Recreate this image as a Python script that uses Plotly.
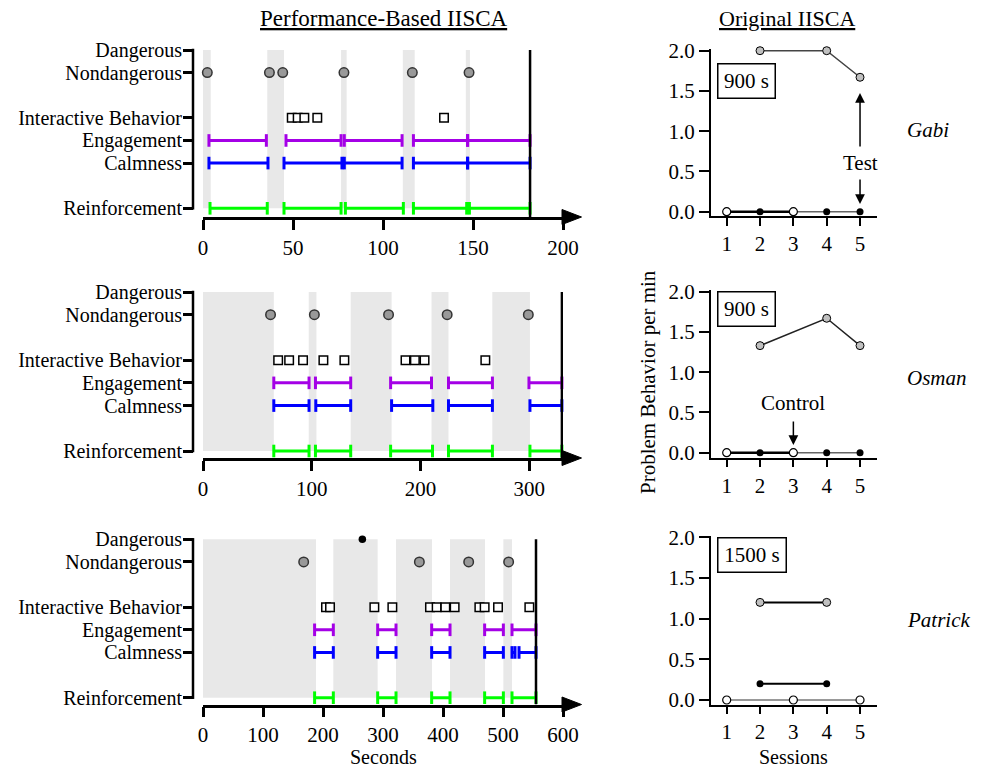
import plotly.graph_objects as go

W, H = 981, 769
def px(x): return x / W
def py(y): return 1 - y / H

FONT = "Liberation Serif"

# ---------------- data ----------------
LEVEL_VALUES = [0, 2, 3, 4, 6, 7]
LEVEL_LABELS = ["Reinforcement", "Calmness", "Engagement", "Interactive Behavior",
                "Nondangerous", "Dangerous"]

# Gabi (Performance-Based IISCA, seconds)
gabi_gray = [(0, 4.3), (35.7, 45), (76.7, 79.8), (111, 117.6), (146, 148.3)]
gabi_dangerous = []
gabi_nondangerous = [2.4, 36.9, 44.3, 78.3, 116.3, 147.8]
gabi_interactive = [49.3, 52.6, 56.3, 63.5, 133.9]
gabi_engagement = [(3.3, 35.2), (46.1, 76.7), (78.5, 110.6), (116.9, 147), (147, 181.7)]
gabi_calmness = [(3.3, 36.1), (45, 77.2), (78.5, 110.6), (116.9, 147), (147, 181.7)]
gabi_reinforcement = [(3.9, 35.7), (45, 76.7), (79.1, 111.3), (116.9, 146.5), (148, 181.7)]
gabi_end = 181.7

# Osman
osman_gray = [(0, 65.1), (97.2, 104.3), (135.8, 173.4), (210.1, 225.7), (266, 300.6)]
osman_dangerous = []
osman_nondangerous = [62.1, 102.4, 170.6, 224.5, 299.1]
osman_interactive = [69.1, 79.2, 92.0, 110.7, 130, 186.2, 194.8, 203.7, 259.6]
osman_engagement = [(65.1, 97.5), (103.4, 135.8), (172.5, 210.1), (225.7, 266.1), (299.7, 330)]
osman_calmness = [(65.1, 97.5), (103.7, 135.8), (173.4, 211.3), (225.7, 266.1), (300.6, 330)]
osman_reinforcement = [(65.1, 97.5), (103.4, 135.8), (172.5, 211), (225.7, 266.1), (300.6, 330)]
osman_end = 330

# Patrick
patrick_gray = [(0, 188.3), (217.2, 291.1), (321.7, 381.7), (411.7, 470), (500.6, 515)]
patrick_dangerous = [265.6]
patrick_nondangerous = [167.8, 360.6, 442.8, 509.4]
patrick_interactive = [205, 211.7, 285.6, 315.6, 378.3, 389.4, 403.9, 419.4,
                       460.6, 469.4, 491.7, 543.9]
patrick_engagement = [(186, 217.2), (291.1, 321.7), (381.1, 411.7), (469.4, 500.6), (515, 555)]
patrick_calmness = [(186, 217.2), (291.1, 321.7), (381.1, 411.7), (469.4, 500.6),
                    (515, 520), (526.7, 555)]
patrick_reinforcement = [(186, 217.2), (291.1, 321.7), (381.1, 411.7), (469.4, 500.6), (515, 555)]
patrick_end = 555

left_ticks = [[0, 50, 100, 150, 200], [0, 100, 200, 300], [0, 100, 200, 300, 400, 500, 600]]
left_ranges = [200, 331, 600]

# Original IISCA (problem behavior per min)
sessions = [1, 2, 3, 4, 5]
gabi_open_x, gabi_open_y = [1, 3], [0, 0]
gabi_black_x, gabi_black_y = [2, 4, 5], [0, 0, 0]
gabi_test_x, gabi_test_y = [2, 4, 5], [2.0, 2.0, 1.67]
osman_open_x, osman_open_y = [1, 3], [0, 0]
osman_black_x, osman_black_y = [2, 4, 5], [0, 0, 0]
osman_test_x, osman_test_y = [2, 4, 5], [1.33, 1.67, 1.33]
patrick_open_x, patrick_open_y = [1, 3, 5], [0, 0, 0]
patrick_black_x, patrick_black_y = [2, 4], [0.2, 0.2]
patrick_test_x, patrick_test_y = [2, 4], [1.2, 1.2]
right_yticks = [0, 0.5, 1.0, 1.5, 2.0]

durations = ["900 s", "900 s", "1500 s"]
names = ["Gabi", "Osman", "Patrick"]

# ---------------- layout geometry (pixels) ----------------
left_geo = [(50, 208.3, 217), (292, 451, 458), (539.3, 697.7, 704.5)]   # top(7), zero(0), axis
right_geo = [(50.7, 211.7, 216), (291.7, 452.7, 457.7), (537.3, 700, 704.5)]  # 2.0, 0.0, axis
LX0, LX1 = 203, 563
RX0, RX1 = 710.7, 876.7

PURPLE, BLUE, GREEN = "#a400e6", "#0000ff", "#00ff00"

fig = go.Figure()
shapes, annotations = [], []
layout = {}

left_data = [
    (gabi_gray, gabi_dangerous, gabi_nondangerous, gabi_interactive, gabi_engagement,
     gabi_calmness, gabi_reinforcement, gabi_end),
    (osman_gray, osman_dangerous, osman_nondangerous, osman_interactive, osman_engagement,
     osman_calmness, osman_reinforcement, osman_end),
    (patrick_gray, patrick_dangerous, patrick_nondangerous, patrick_interactive, patrick_engagement,
     patrick_calmness, patrick_reinforcement, patrick_end),
]

def intervals_xy(intervals, level):
    xs, ys = [], []
    for a, b in intervals:
        xs += [a, b, None]
        ys += [level, level, None]
    return xs, ys

for i, (gray, dang, nond, inter, eng, calm, reinf, end) in enumerate(left_data):
    n = i + 1
    xa, ya = ("x" if n == 1 else f"x{n}"), ("y" if n == 1 else f"y{n}")
    top, zero, axis = left_geo[i]
    u = (zero - top) / 7
    ybot = -(axis - zero) / u
    ytop = 7 + 4 / u
    layout[f"xaxis{'' if n == 1 else n}"] = dict(
        domain=[px(LX0), px(LX1)], range=[0, left_ranges[i]], anchor=ya, automargin=False,
        showline=True, linecolor="black", linewidth=2.5, ticks="outside", ticklen=10,
        tickwidth=2.5, tickcolor="black", tickvals=left_ticks[i], showgrid=False,
        zeroline=False, tickfont=dict(family=FONT, size=21, color="black"))
    layout[f"yaxis{'' if n == 1 else n}"] = dict(
        domain=[py(axis), py(top - 4)], range=[ybot, ytop], anchor="free", automargin=False,
        position=px(193), showline=False, ticks="outside", ticklen=10, tickwidth=2.5,
        ticklabelstandoff=-3,
        tickcolor="black", tickvals=LEVEL_VALUES, ticktext=LEVEL_LABELS, showgrid=False,
        zeroline=False, tickfont=dict(family=FONT, size=20, color="black"))
    for a, b in gray:
        shapes.append(dict(type="rect", xref=xa, yref=ya, x0=a, x1=b, y0=0, y1=7,
                           fillcolor="#e8e8e8", line=dict(width=0), layer="below"))
    shapes.append(dict(type="line", xref=xa, yref=ya, x0=end, x1=end, y0=ybot, y1=7,
                       line=dict(color="black", width=2.5)))
    # y axis line and arrow head
    shapes.append(dict(type="line", xref="paper", yref="paper", x0=px(193), x1=px(193),
                       y0=py(top - 1.25), y1=py(zero + 1.25), line=dict(color="black", width=2.5)))
    shapes.append(dict(type="path", xref="paper", yref="paper",
                       path=f"M {px(562)} {py(axis - 7.5)} L {px(581.5)} {py(axis)} L {px(562)} {py(axis + 7.5)} Z",
                       fillcolor="black", line=dict(color="black", width=1)))
    for ivals, lvl, col in [(reinf, 0, GREEN), (calm, 2, BLUE), (eng, 3, PURPLE)]:
        xs, ys = intervals_xy(ivals, lvl)
        fig.add_trace(go.Scatter(x=xs, y=ys, mode="lines+markers", xaxis=xa, yaxis=ya,
                                 line=dict(color=col, width=3),
                                 marker=dict(symbol="line-ns", size=9, line=dict(color=col, width=3)),
                                 cliponaxis=False, showlegend=False, hoverinfo="skip"))
    fig.add_trace(go.Scatter(x=inter, y=[4] * len(inter), mode="markers", xaxis=xa, yaxis=ya,
                             marker=dict(symbol="square", size=8.5, color="white",
                                         line=dict(color="black", width=1.5)),
                             cliponaxis=False, showlegend=False))
    fig.add_trace(go.Scatter(x=nond, y=[6] * len(nond), mode="markers", xaxis=xa, yaxis=ya,
                             marker=dict(symbol="circle", size=9.5, color="#999999",
                                         line=dict(color="#333333", width=1.5)),
                             cliponaxis=False, showlegend=False))
    if dang:
        fig.add_trace(go.Scatter(x=dang, y=[7] * len(dang), mode="markers", xaxis=xa, yaxis=ya,
                                 marker=dict(symbol="circle", size=7.5, color="black"),
                                 cliponaxis=False, showlegend=False))

right_data = [
    (gabi_open_x, gabi_open_y, gabi_black_x, gabi_black_y, gabi_test_x, gabi_test_y,
     ("black", 2.5), ("#666666", 1.5), ("#444444", 1.5)),
    (osman_open_x, osman_open_y, osman_black_x, osman_black_y, osman_test_x, osman_test_y,
     ("black", 2.5), ("#666666", 1.5), ("#222222", 1.5)),
    (patrick_open_x, patrick_open_y, patrick_black_x, patrick_black_y, patrick_test_x, patrick_test_y,
     ("#777777", 1.5), ("black", 2), ("black", 2)),
]

for i, (ox, oy, bx, by, tx, ty, ost, bst, tst) in enumerate(right_data):
    n = i + 4
    xa, ya = f"x{n}", f"y{n}"
    two, zero, axis = right_geo[i]
    u = (zero - two) / 2
    ybot = -(axis - zero) / u
    ytop = 2 + 1.5 / u
    layout[f"xaxis{n}"] = dict(
        domain=[px(RX0), px(RX1)], range=[0.52, 5.5], anchor=ya, showline=True, automargin=False,
        linecolor="black", linewidth=1.5, ticks="outside", ticklen=8, tickwidth=1.5,
        tickcolor="black", tickvals=sessions, showgrid=False, zeroline=False,
        tickfont=dict(family=FONT, size=21, color="black"))
    layout[f"yaxis{n}"] = dict(
        domain=[py(axis), py(two - 1.5)], range=[ybot, ytop], anchor=xa, showline=True,
        automargin=False,
        linecolor="black", linewidth=1.5, ticks="outside", ticklen=10, tickwidth=1.5,
        tickcolor="black", tickvals=right_yticks, ticktext=[f"{v:.1f}" for v in right_yticks],
        showgrid=False, zeroline=False, tickfont=dict(family=FONT, size=21, color="black"))
    fig.add_trace(go.Scatter(x=bx, y=by, mode="lines+markers", xaxis=xa, yaxis=ya,
                             line=dict(color=bst[0], width=bst[1]),
                             marker=dict(size=7, color="black"), cliponaxis=False, showlegend=False))
    fig.add_trace(go.Scatter(x=ox, y=oy, mode="lines+markers", xaxis=xa, yaxis=ya,
                             line=dict(color=ost[0], width=ost[1]),
                             marker=dict(size=8, color="white", line=dict(color="black", width=1.2)),
                             cliponaxis=False, showlegend=False))
    fig.add_trace(go.Scatter(x=tx, y=ty, mode="lines+markers", xaxis=xa, yaxis=ya,
                             line=dict(color=tst[0], width=tst[1]),
                             marker=dict(size=8, color="#c0c0c0", line=dict(color="black", width=1)),
                             cliponaxis=False, showlegend=False))
    # duration box
    bw = 53 if i < 2 else 64
    annotations.append(dict(xref="paper", yref="paper",
                            x=px(717), y=py([62.7, 291, 537][i]), xanchor="left", yanchor="top",
                            text=durations[i], showarrow=False, width=bw, height=30,
                            bordercolor="black", borderwidth=1.5, borderpad=1.5,
                            font=dict(family=FONT, size=21, color="black")))
    # participant name
    annotations.append(dict(xref="paper", yref="paper", x=px(905), y=py([130, 378, 620][i]),
                            xanchor="left", yanchor="middle", text=f"<i>{names[i]}</i>",
                            showarrow=False, font=dict(family=FONT, size=21, color="black")))

# Test / Control annotations
annotations += [
    dict(xref="x4", yref="y4", x=5, y=0.605, text="Test", showarrow=False,
         font=dict(family=FONT, size=21, color="black")),
    dict(xref="x4", yref="y4", x=5, y=1.474, ax=0, ay=55, text="", showarrow=True,
         arrowhead=2, arrowsize=1.3, arrowwidth=1.5, arrowcolor="black", standoff=0),
    dict(xref="x4", yref="y4", x=5, y=0.096, ax=0, ay=-26, text="", showarrow=True,
         arrowhead=2, arrowsize=1.3, arrowwidth=1.5, arrowcolor="black", standoff=0),
    dict(xref="x5", yref="y5", x=3, y=0.617, text="Control", showarrow=False,
         font=dict(family=FONT, size=21, color="black")),
    dict(xref="x5", yref="y5", x=3, y=0.096, ax=0, ay=-25, text="", showarrow=True,
         arrowhead=2, arrowsize=1.3, arrowwidth=1.5, arrowcolor="black", standoff=0),
]

# titles
annotations += [
    dict(xref="paper", yref="paper", x=px(384), y=py(18), text="<u>Performance-Based IISCA</u>",
         showarrow=False, xanchor="center", yanchor="middle",
         font=dict(family=FONT, size=23, color="black")),
    dict(xref="paper", yref="paper", x=px(787), y=py(18), text="<u>Original IISCA</u>",
         showarrow=False, xanchor="center", yanchor="middle",
         font=dict(family=FONT, size=22, color="black")),
    dict(xref="paper", yref="paper", x=px(383), y=py(756.5), text="Seconds", showarrow=False,
         xanchor="center", yanchor="middle", borderpad=0,
         font=dict(family=FONT, size=20, color="black")),
    dict(xref="paper", yref="paper", x=px(793), y=py(756.5), text="Sessions", showarrow=False,
         xanchor="center", yanchor="middle", borderpad=0,
         font=dict(family=FONT, size=20, color="black")),
    dict(xref="paper", yref="paper", x=px(648), y=py(382), text="Problem Behavior per min",
         showarrow=False, textangle=-90, xanchor="center", yanchor="middle",
         font=dict(family=FONT, size=21, color="black")),
]

fig.update_layout(width=W, height=H, margin=dict(l=0, r=0, t=0, b=0, autoexpand=False),
                  paper_bgcolor="white", plot_bgcolor="white", showlegend=False,
                  shapes=shapes, annotations=annotations, **layout)
fig.write_html("out.html")
